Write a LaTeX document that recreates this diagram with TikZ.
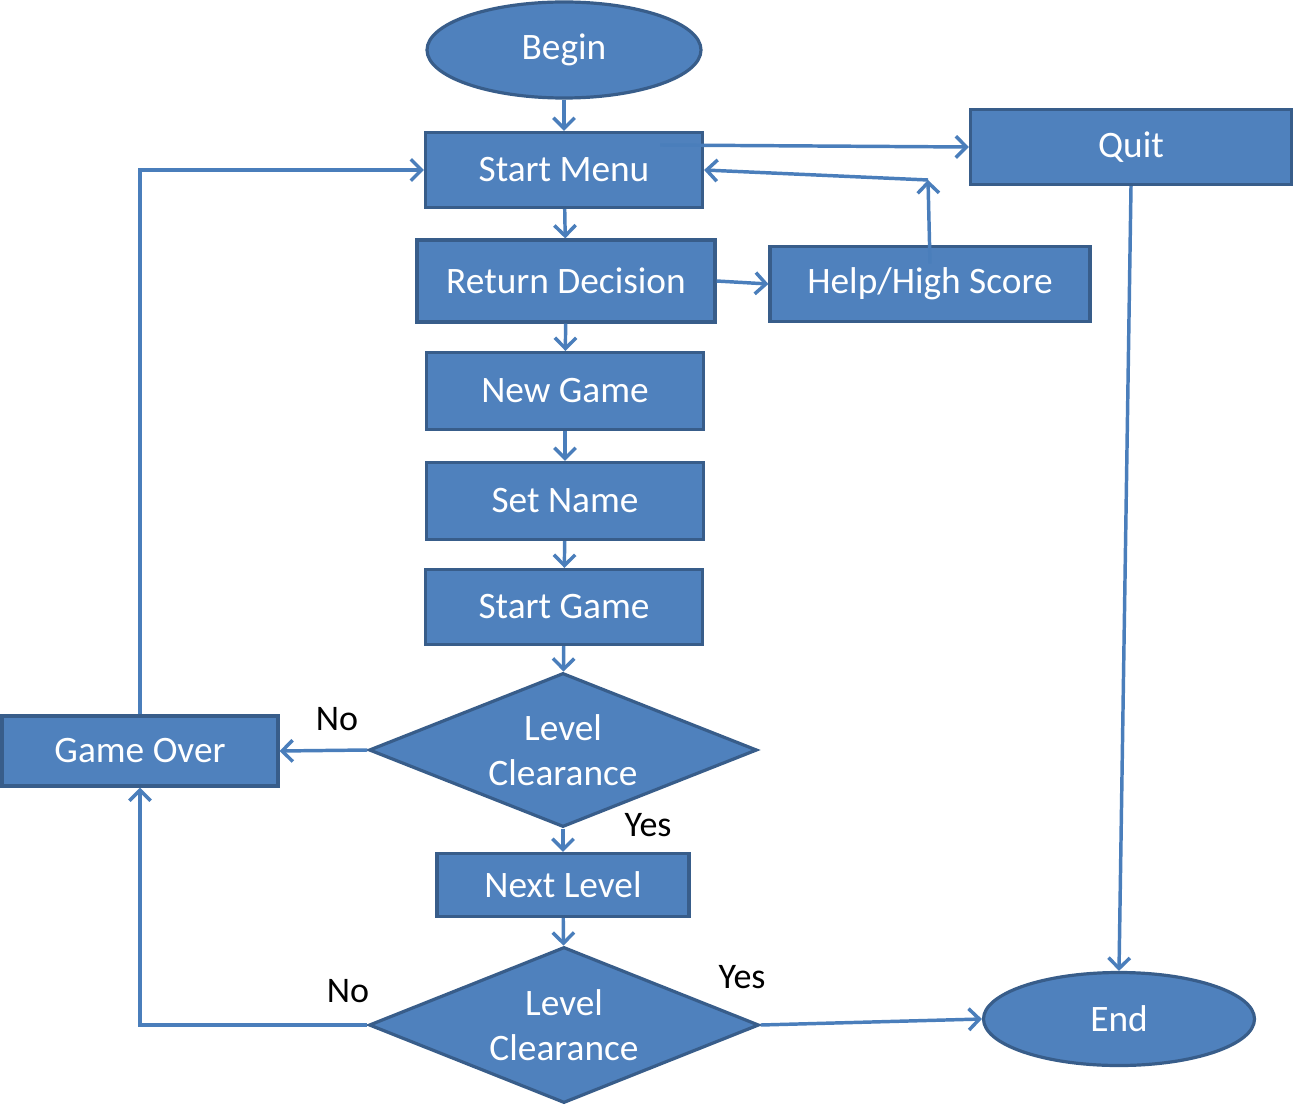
\documentclass[tikz,border=0pt]{standalone}
\usepackage{fontspec}
\setmainfont{Carlito}
\usetikzlibrary{shapes.geometric,arrows.meta}
\definecolor{boxfill}{HTML}{4F81BD}
\definecolor{boxline}{HTML}{385D8A}
\definecolor{arrowline}{HTML}{4A7EBB}
\newcommand{\px}{0.75pt}
\tikzset{
	block/.style={rectangle,draw=boxline,fill=boxfill,line width=2.4pt,text=white,inner sep=0pt,font=\fontsize{28}{34}\selectfont},
	term/.style={ellipse,draw=boxline,fill=boxfill,line width=2.4pt,text=white,inner sep=0pt,font=\fontsize{28}{34}\selectfont},
	decide/.style={diamond,aspect=2.52,draw=boxline,fill=boxfill,line width=2.4pt,text=white,inner sep=0pt,align=center,font=\fontsize{28}{34}\selectfont},
	answer/.style={inner sep=0pt,font=\fontsize{27}{32}\selectfont},
	flow/.style={draw=arrowline,line width=2.6pt,-{Straight Barb[length=8pt,width=16pt]}}
}
\begin{document}
\begin{tikzpicture}[x=\px,y=-\px]
		\useasboundingbox (0,0) rectangle (1294,1105);
		
		\node[term,minimum width=274*\px,minimum height=96*\px] (begin) at (564,50) {Begin};
		\node[block,minimum width=277*\px,minimum height=75*\px] (startmenu) at (564,170) {Start Menu};
		\node[block,minimum width=321*\px,minimum height=75*\px] (quit) at (1131,147) {Quit};
		\node[block,minimum width=298*\px,minimum height=82*\px] (retdec) at (566,281) {Return Decision};
		\node[block,minimum width=320*\px,minimum height=75*\px] (help) at (930,284) {Help/High Score};
		\node[block,minimum width=277*\px,minimum height=77*\px] (newgame) at (565,391) {New Game};
		\node[block,minimum width=277*\px,minimum height=77*\px] (setname) at (565,501) {Set Name};
		\node[block,minimum width=277*\px,minimum height=75*\px] (startgame) at (564,607) {Start Game};
		\node[decide,minimum width=388*\px,minimum height=154*\px] (clear1) at (563,750) {Level\\Clearance};
		\node[block,minimum width=276*\px,minimum height=70*\px] (gameover) at (140,751) {Game Over};
		\node[block,minimum width=252*\px,minimum height=63*\px] (nextlevel) at (563,885) {Next Level};
		\node[decide,minimum width=390*\px,minimum height=156*\px] (clear2) at (564,1025) {Level\\Clearance};
		\node[term,minimum width=271*\px,minimum height=93*\px] (end) at (1119,1019) {End};
		
		\node[answer] (no1) at (337,719) {No};
		\node[answer] (yes1) at (648,825) {Yes};
		\node[answer] (no2) at (348,991) {No};
		\node[answer] (yes2) at (742,977) {Yes};
		
		\coordinate (hsturn) at (928,180);
		
		\draw[flow] (begin) -- (startmenu);
		\draw[flow] ([xshift=-33pt,yshift=18.75pt]startmenu.east) -- (quit.west);
		\draw[flow] ([yshift=-14pt]help.north) -- (hsturn);
		\draw[flow] (hsturn) -- (startmenu.east);
		\draw[flow] (startmenu) -- (retdec);
		\draw[flow] (retdec.east) -- (help.west);
		\draw[flow] (retdec) -- (newgame);
		\draw[flow] (newgame) -- (setname);
		\draw[flow] (setname) -- (startgame);
		\draw[flow] (startgame) -- (clear1);
		\draw[flow] (clear1.west) -- (gameover.east);
		\draw[flow] (clear1) -- (nextlevel);
		\draw[flow] (nextlevel) -- (clear2);
		\draw[flow] (clear2.west) -| (gameover.south);
		\draw[flow] (clear2.east) -- (end.west);
		\draw[flow] (gameover.north) |- (startmenu.west);
		\draw[flow] (quit.south) -- (end.north);
	\end{tikzpicture}
\end{document}
